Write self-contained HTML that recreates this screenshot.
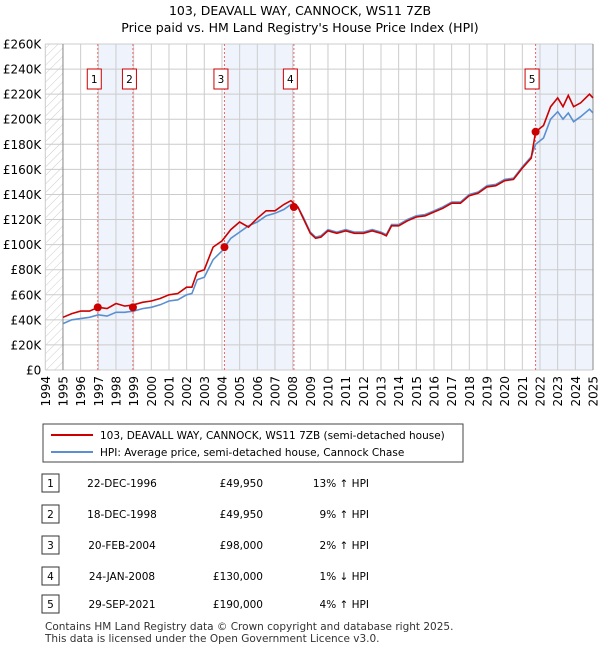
<!DOCTYPE html>
<html><head><meta charset="utf-8"><style>
body{margin:0;background:#fff;font-family:"Liberation Sans","DejaVu Sans",sans-serif;}
svg text{font-family:"DejaVu Sans","Liberation Sans",sans-serif;}
</style></head><body>
<svg width="600" height="650" xmlns="http://www.w3.org/2000/svg">
<defs><pattern id="hatch" width="6" height="6" patternUnits="userSpaceOnUse" patternTransform="rotate(45)"><line x1="0" y1="0" x2="0" y2="6" stroke="#ccc" stroke-width="1"/></pattern></defs>
<text x="300" y="15" text-anchor="middle" font-size="12.5">103, DEAVALL WAY, CANNOCK, WS11 7ZB</text>
<text x="300" y="32" text-anchor="middle" font-size="12.5">Price paid vs. HM Land Registry's House Price Index (HPI)</text>
<g id="plot"></g>
<g id="legend">
<rect x="43" y="424" width="420" height="38" fill="#fff" stroke="#444"/>
<line x1="51" y1="435" x2="93" y2="435" stroke="#cc0000" stroke-width="2"/>
<text x="100" y="439" font-size="10.5">103, DEAVALL WAY, CANNOCK, WS11 7ZB (semi-detached house)</text>
<line x1="51" y1="452" x2="93" y2="452" stroke="#5b8fd0" stroke-width="2"/>
<text x="100" y="456" font-size="10.5">HPI: Average price, semi-detached house, Cannock Chase</text>
</g>
<g id="table" font-size="10.5"></g>
<text x="45" y="630" font-size="10.5" fill="#333">Contains HM Land Registry data © Crown copyright and database right 2025.</text>
<text x="45" y="642" font-size="10.5" fill="#333">This data is licensed under the Open Government Licence v3.0.</text>
</svg>
<script>
const hpiX=[1995,1995.5,1996,1996.5,1997,1997.5,1998,1998.5,1999,1999.5,2000,2000.5,2001,2001.5,2002,2002.3,2002.6,2003,2003.5,2004,2004.5,2005,2005.5,2006,2006.5,2007,2007.5,2007.9,2008.3,2008.6,2009,2009.3,2009.6,2010,2010.5,2011,2011.5,2012,2012.5,2013,2013.3,2013.6,2014,2014.5,2015,2015.5,2016,2016.5,2017,2017.5,2018,2018.5,2019,2019.5,2020,2020.5,2021,2021.5,2021.75,2022.2,2022.6,2023,2023.3,2023.6,2023.9,2024.3,2024.8,2025];
const hpiY=[37,40,41,42,44,43,46,46,47,49,50,52,55,56,60,61,72,74,88,95,105,110,115,118,123,125,128,132,130,122,110,106,107,112,110,112,110,110,112,110,108,116,116,120,123,124,127,130,134,134,140,142,147,148,152,153,162,170,180,185,200,206,200,205,198,202,208,205];
const ppX=[1995,1995.5,1996,1996.5,1997,1997.5,1998,1998.5,1999,1999.5,2000,2000.5,2001,2001.5,2002,2002.3,2002.6,2003,2003.5,2004,2004.5,2005,2005.5,2006,2006.5,2007,2007.5,2007.9,2008.3,2008.6,2009,2009.3,2009.6,2010,2010.5,2011,2011.5,2012,2012.5,2013,2013.3,2013.6,2014,2014.5,2015,2015.5,2016,2016.5,2017,2017.5,2018,2018.5,2019,2019.5,2020,2020.5,2021,2021.5,2021.75,2022.2,2022.6,2023,2023.3,2023.6,2023.9,2024.3,2024.8,2025];
const ppY=[42,45,47,47,50,49,53,51,52,54,55,57,60,61,66,66,78,80,98,103,112,118,114,121,127,127,132,135,130,121,109,105,106,111,109,111,109,109,111,109,107,115,115,119,122,123,126,129,133,133,139,141,146,147,151,152,161,169,190,195,210,217,210,219,210,213,220,217];
const saleX=[1996.97,1998.96,2004.14,2008.07,2021.75];
const saleY=[49.95,49.95,98,130,190];
const saleDates=["22-DEC-1996","18-DEC-1998","20-FEB-2004","24-JAN-2008","29-SEP-2021"];
const salePrices=["£49,950","£49,950","£98,000","£130,000","£190,000"];
const saleHpi=["13% ↑ HPI","9% ↑ HPI","2% ↑ HPI","1% ↓ HPI","4% ↑ HPI"];
const yTicks=[0,20,40,60,80,100,120,140,160,180,200,220,240,260];
const xTicks=[1994,1995,1996,1997,1998,1999,2000,2001,2002,2003,2004,2005,2006,2007,2008,2009,2010,2011,2012,2013,2014,2015,2016,2017,2018,2019,2020,2021,2022,2023,2024,2025];

const NS="http://www.w3.org/2000/svg";
const X0=45.3,X1=593,Y0=370,Y1=44;
const sx=y=>X0+(y-1994)*(X1-X0)/31;
const sy=v=>Y0-v*(Y0-Y1)/260;
const plot=document.getElementById('plot');
function mk(tag,attrs,parent){const e=document.createElementNS(NS,tag);for(const k in attrs)e.setAttribute(k,attrs[k]);(parent||plot).appendChild(e);return e;}
[[saleX[0],saleX[1]],[saleX[2],saleX[3]],[saleX[4],2025]].forEach((r,i)=>{
 const e=mk('rect',{x:sx(r[0]),y:Y1,width:sx(r[1])-sx(r[0]),height:Y0-Y1,fill:'#eef3fc'});
 
 
});
const h=mk('rect',{x:X0,y:Y1,width:sx(1995)-X0,height:Y0-Y1,fill:'url(#hatch)'});


yTicks.forEach(v=>{
 mk('line',{x1:X0,x2:X1,y1:sy(v),y2:sy(v),stroke:'#ccc'});
 const t=mk('text',{x:X0-4,y:sy(v)+4.5,'text-anchor':'end','font-size':12});
 t.textContent=v===0?'£0':'£'+v+'K';
 
 
});
xTicks.forEach(yr=>{
 mk('line',{x1:sx(yr),x2:sx(yr),y1:Y1,y2:Y0,stroke:'#ccc'});
 const t=mk('text',{x:0,y:0,'text-anchor':'end','font-size':12,transform:`translate(${sx(yr)+4.5},${Y0+6}) rotate(-90)`});
 t.textContent=yr;
 
 
});
mk('line',{x1:sx(1995),x2:sx(1995),y1:Y1,y2:Y0,stroke:'#888'});
mk('line',{x1:X1,x2:X1,y1:Y1,y2:Y0,stroke:'#888'});
saleX.forEach((x,i)=>{
 const l=mk('line',{x1:sx(x),x2:sx(x),y1:Y1,y2:Y0,stroke:'#e66','stroke-dasharray':'2,2'});
 
 
 const b=mk('rect',{x:sx(x)-10.5,y:69,width:14,height:20,fill:'#fff',stroke:'#c00'});
 
 
 const t=mk('text',{x:sx(x)-3.5,y:83,'text-anchor':'middle','font-size':10.5});
 t.textContent=i+1;
 
 
});
function line(xs,ys,col,name){
 const d=xs.map((x,i)=>(i?'L':'M')+sx(x).toFixed(1)+','+sy(ys[i]).toFixed(1)).join('');
 const p=mk('path',{d:d,fill:'none',stroke:col,'stroke-width':1.6});
 
 
}
line(hpiX,hpiY,'#5b8fd0','hpi-line');
line(ppX,ppY,'#cc0000','price-paid-line');
saleX.forEach((x,i)=>{
 const c=mk('circle',{cx:sx(x),cy:sy(saleY[i]),r:4,fill:'#cc0000'});
 
 
});
const tb=document.getElementById('table');
const rowY=[483,514,545,576,604];
saleDates.forEach((d,i)=>{
 const y=rowY[i];
 const b=mk('rect',{x:42,y:y-9,width:17,height:18,fill:'#fff',stroke:'#333'},tb);
 
 
 const n=mk('text',{x:50.5,y:y+4,'text-anchor':'middle'},tb);n.textContent=i+1;
 
 
 const a=mk('text',{x:122,y:y+4,'text-anchor':'middle'},tb);a.textContent=d;
 
 
 const p=mk('text',{x:263,y:y+4,'text-anchor':'end'},tb);p.textContent=salePrices[i];
 
 
 const q=mk('text',{x:369,y:y+4,'text-anchor':'end'},tb);q.textContent=saleHpi[i];
 
 
});
</script>
</body></html>
